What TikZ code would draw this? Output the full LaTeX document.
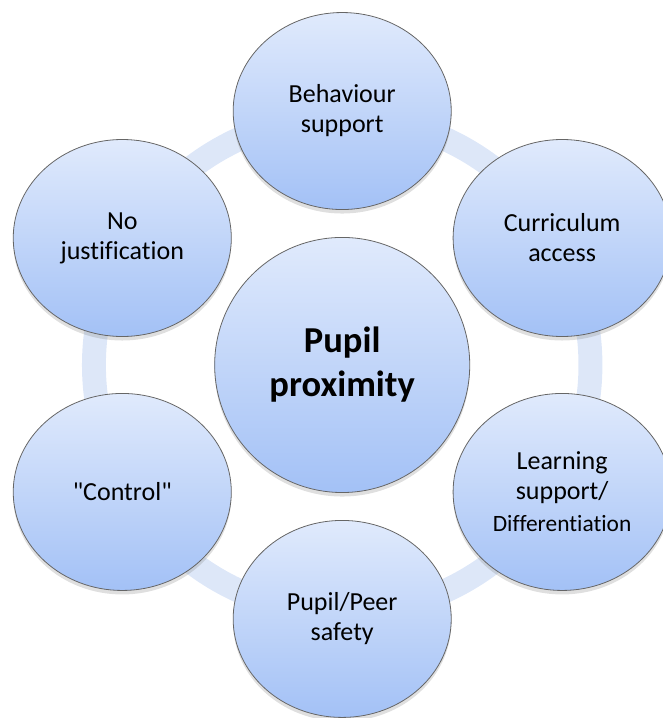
\documentclass[tikz,border=0pt]{standalone}
\usepackage{fontspec}
\setmainfont{Carlito}[Ligatures={NoCommon}]
\usetikzlibrary{shapes.geometric,shadows}
\definecolor{bubbletop}{RGB}{224,234,252}
\definecolor{bubblebot}{RGB}{163,193,246}
\definecolor{ringblue}{RGB}{221,231,248}

\begin{document}
\begin{tikzpicture}[font=\fontsize{13}{15}\selectfont,
  bubble/.style={ellipse,draw=black!60,line width=0.4pt,top color=bubbletop,bottom color=bubblebot,
    minimum width=3.83cm,minimum height=3.46cm,inner sep=0pt,align=center,
    drop shadow={shadow xshift=0pt,shadow yshift=-2pt,opacity=0.25}},
  hubcircle/.style={bubble,circle,minimum size=4.48cm,font=\fontsize{18.25}{22}\selectfont\bfseries}]
\useasboundingbox (-6.01,-6.20) rectangle (5.62,6.41);
\coordinate (hub) at (0,0);
\draw[ringblue,line width=0.42cm] (hub) circle (4.36);
\node[bubble] (behaviour) at (90:4.46) {Behaviour\\support};
\node[bubble] (curriculum) at (30:4.46) {Curriculum\\access};
\node[bubble] (learning) at (-30:4.46) {Learning\\support/\\[1pt]{\fontsize{11.7}{14}\selectfont Differentiation}};
\node[bubble] (safety) at (-90:4.46) {Pupil/Peer\\safety};
\node[bubble] (control) at (-150:4.46) {\textquotedbl Control\textquotedbl};
\node[bubble] (nojust) at (150:4.46) {No\\justification};
\node[hubcircle] (proximity) at (hub) {Pupil\\proximity};
\end{tikzpicture}
\end{document}
